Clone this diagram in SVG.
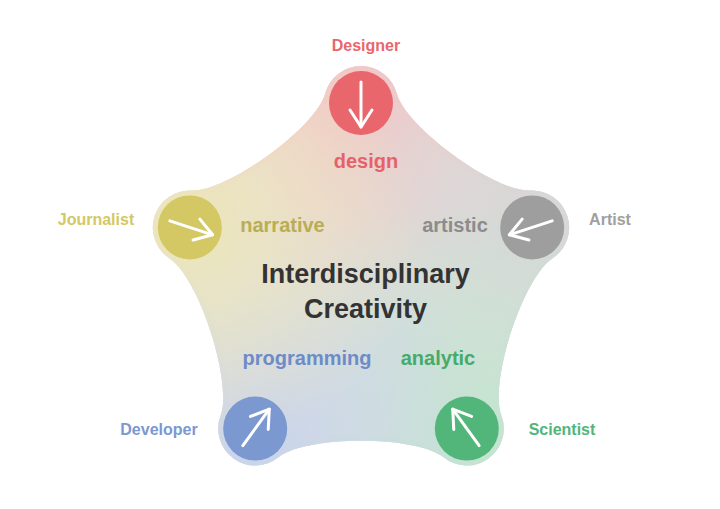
<svg xmlns="http://www.w3.org/2000/svg" width="720" height="509" viewBox="0 0 720 509">
<style>
.name{font-family:"Liberation Sans",Arial,sans-serif;font-weight:bold;font-size:16px;text-anchor:middle}
.role{font-family:"Liberation Sans",Arial,sans-serif;font-weight:bold;font-size:20px;text-anchor:middle}
.title{font-family:"Liberation Sans",Arial,sans-serif;font-weight:bold;font-size:27px;text-anchor:middle;fill:#333333}
.arrow{fill:none;stroke:#ffffff;stroke-width:3;stroke-linecap:round;stroke-linejoin:round}
.edge{fill:none;stroke-width:10}
</style>
<defs>
<path id="blob" d="M 325.26 93.42 A 37 37 0 0 1 396.74 93.42 C 405.80 127.23 495.31 192.28 530.26 190.45 A 37 37 0 0 1 552.35 258.43 C 523.00 277.49 488.80 382.66 501.34 415.34 A 37 37 0 0 1 443.52 457.35 C 416.32 435.32 305.68 435.32 278.48 457.35 A 37 37 0 0 1 220.66 415.34 C 233.20 382.66 199.00 277.49 169.65 258.43 A 37 37 0 0 1 191.74 190.45 C 226.69 192.28 316.20 127.23 325.26 93.42 Z"/>
<clipPath id="clip"><use href="#blob"/></clipPath>
<radialGradient id="gR" gradientUnits="userSpaceOnUse" cx="361" cy="103" r="230"><stop offset="0" stop-color="#f3c4c4" stop-opacity="1"/><stop offset="0.35" stop-color="#f3c8c8" stop-opacity="0.75"/><stop offset="1" stop-color="#f3c8c8" stop-opacity="0"/></radialGradient>
<radialGradient id="gA" gradientUnits="userSpaceOnUse" cx="532.2" cy="227.4" r="230"><stop offset="0" stop-color="#d6d6d6" stop-opacity="1"/><stop offset="0.35" stop-color="#d8d8d8" stop-opacity="0.75"/><stop offset="1" stop-color="#d8d8d8" stop-opacity="0"/></radialGradient>
<radialGradient id="gS" gradientUnits="userSpaceOnUse" cx="466.8" cy="428.6" r="230"><stop offset="0" stop-color="#c2e4cf" stop-opacity="1"/><stop offset="0.35" stop-color="#c6e4d2" stop-opacity="0.75"/><stop offset="1" stop-color="#c6e4d2" stop-opacity="0"/></radialGradient>
<radialGradient id="gV" gradientUnits="userSpaceOnUse" cx="255.2" cy="428.6" r="230"><stop offset="0" stop-color="#c8d3ec" stop-opacity="1"/><stop offset="0.35" stop-color="#ccd6ea" stop-opacity="0.75"/><stop offset="1" stop-color="#ccd6ea" stop-opacity="0"/></radialGradient>
<radialGradient id="gJ" gradientUnits="userSpaceOnUse" cx="189.8" cy="227.4" r="230"><stop offset="0" stop-color="#ece5b8" stop-opacity="1"/><stop offset="0.35" stop-color="#ece6c0" stop-opacity="0.75"/><stop offset="1" stop-color="#ece6c0" stop-opacity="0"/></radialGradient>
<g id="arr"><line x1="0" y1="-21" x2="0" y2="24"/><polyline points="-11,7 0,24 11,7"/></g>
</defs>

<g id="background" clip-path="url(#clip)">
<rect x="0" y="0" width="720" height="509" fill="#e3e0dc"/>
<rect x="0" y="0" width="720" height="509" fill="url(#gR)"/>
<rect x="0" y="0" width="720" height="509" fill="url(#gA)"/>
<rect x="0" y="0" width="720" height="509" fill="url(#gS)"/>
<rect x="0" y="0" width="720" height="509" fill="url(#gV)"/>
<rect x="0" y="0" width="720" height="509" fill="url(#gJ)"/>
<use href="#blob" class="edge" stroke="url(#gR)" stroke-opacity="0.6"/>
<use href="#blob" class="edge" stroke="url(#gA)" stroke-opacity="0.6"/>
<use href="#blob" class="edge" stroke="url(#gS)" stroke-opacity="0.6"/>
<use href="#blob" class="edge" stroke="url(#gV)" stroke-opacity="0.6"/>
<use href="#blob" class="edge" stroke="url(#gJ)" stroke-opacity="0.6"/>
</g>

<g id="connectors"></g>

<g id="designer">
<circle cx="361" cy="103" r="32" fill="#e8666c"/>
<use href="#arr" class="arrow" transform="translate(361 103)"/>
<text class="name" x="366" y="51" fill="#e8666c">Designer</text>
<text class="role" x="366" y="168" fill="#e6616a">design</text>
</g>

<g id="artist">
<circle cx="532.2" cy="227.4" r="32" fill="#9e9e9e"/>
<use href="#arr" class="arrow" transform="translate(532.2 227.4) rotate(72)"/>
<text class="name" x="610" y="225" fill="#a0a0a0">Artist</text>
<text class="role" x="455" y="232" fill="#8c8c8c">artistic</text>
</g>

<g id="scientist">
<circle cx="466.8" cy="428.6" r="32" fill="#52b57a"/>
<use href="#arr" class="arrow" transform="translate(466.8 428.6) rotate(144)"/>
<text class="name" x="562" y="435" fill="#52b57a">Scientist</text>
<text class="role" x="438" y="365" fill="#45ab6a">analytic</text>
</g>

<g id="developer">
<circle cx="255.2" cy="428.6" r="32" fill="#7b98d1"/>
<use href="#arr" class="arrow" transform="translate(255.2 428.6) rotate(216)"/>
<text class="name" x="159" y="435" fill="#7b98d1">Developer</text>
<text class="role" x="307" y="365" fill="#6d8bc8">programming</text>
</g>

<g id="journalist">
<circle cx="189.8" cy="227.4" r="32" fill="#d3c863"/>
<use href="#arr" class="arrow" transform="translate(189.8 227.4) rotate(288)"/>
<text class="name" x="96" y="225" fill="#d3c863">Journalist</text>
<text class="role" x="282.5" y="232" fill="#b9ad55">narrative</text>
</g>

<g id="center">
<text class="title" x="365.5" y="283">Interdisciplinary</text>
<text class="title" x="365.5" y="318">Creativity</text>
</g>
</svg>
